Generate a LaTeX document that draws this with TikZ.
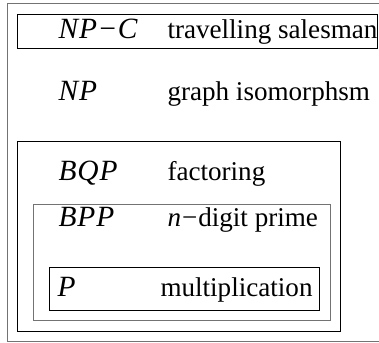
\documentclass[tikz,border=0pt]{standalone}
\usepackage{fontspec}
\setmainfont{Liberation Serif}

\begin{document}
\begin{tikzpicture}[x=1bp, y=-1bp, line width=1bp,
    every node/.style={anchor=base west, inner sep=0pt, font=\fontsize{27.2}{30}\selectfont},
    cls/.style={font=\fontsize{29.5}{32}\selectfont\itshape},
    frame/.style={draw=black!55},
    classbox/.style={draw=black},
    innerbox/.style={draw=black!55}]
    \useasboundingbox (0,0) rectangle (379,343);
    \clip (0,0) rectangle (379,343);

    % frame, open on the right
    \draw[frame] (385,3.5) -- (7,3.5) -- (7,341.5) -- (385,341.5);

    % nested classes
    \draw[classbox] (17.5,14) rectangle (377.5,48.5);
    \draw[classbox] (17.5,141.5) rectangle (340.5,331);
    \draw[innerbox] (33.5,204.5) rectangle (330,320.5);
    \draw[classbox] (49.5,267.5) rectangle (319,310.5);

    \node[cls] (npc) at (58,38.5) {N\kern1bp P\kern0.5bp−\kern0.5bp C};
    \node (npcex) at (167,38.5) {travelling salesman};
    \node[cls] (np) at (58,100) {N\kern1bp P};
    \node (npex) at (167,100) {graph isomorphsm};
    \node[cls] (bqp) at (58,180) {B\kern1bp Q\kern1bp P};
    \node (bqpex) at (167,180) {factoring};
    \node[cls] (bpp) at (58,226) {B\kern1bp P\kern1bp P};
    \node (bppex) at (167,226) {\textit{n}\kern1bp−\kern1bp digit prime};
    \node[cls] (p) at (57,296) {P};
    \node (pex) at (160,296) {multiplication};
\end{tikzpicture}
\end{document}
